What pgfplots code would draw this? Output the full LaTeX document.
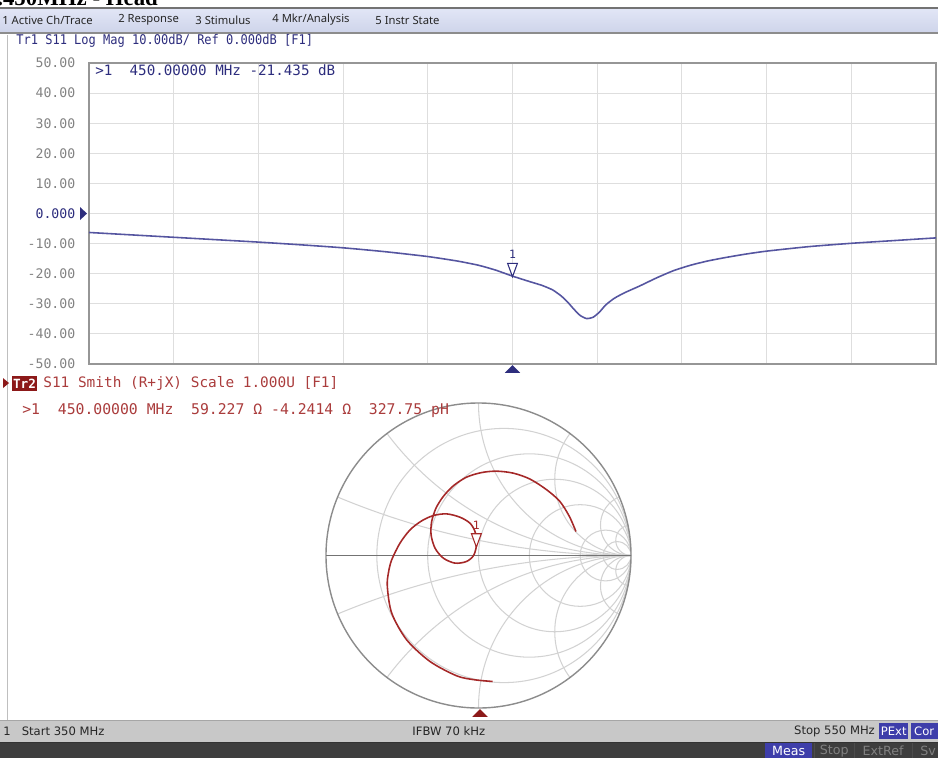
\documentclass[border=0pt]{standalone}
\usepackage{fontspec}
\usepackage{pgfplots}
\pgfplotsset{compat=1.18}
\usepackage{pgfplotstable}
\setmainfont{DejaVu Sans}
\newfontfamily\monof{DejaVu Sans Mono}
\newfontfamily\menuf{Noto Sans}
\newfontfamily\titlef{Liberation Serif}

\definecolor{navy}{RGB}{45,45,125}
\definecolor{trace1}{RGB}{85,85,160}
\definecolor{tickgray}{RGB}{130,130,130}
\definecolor{gridc}{RGB}{222,222,222}
\definecolor{framec}{RGB}{150,150,150}
\definecolor{trace2}{RGB}{165,40,40}
\definecolor{redtext}{RGB}{170,60,60}
\definecolor{trbox}{RGB}{140,25,25}
\definecolor{sgrid}{RGB}{210,210,210}
\definecolor{souter}{RGB}{140,140,140}
\definecolor{menutop}{RGB}{226,230,246}
\definecolor{menubot}{RGB}{206,212,234}
\definecolor{statusbar}{RGB}{200,200,200}
\definecolor{darkbar}{RGB}{62,62,62}
\definecolor{btnblue}{RGB}{62,62,170}

\pgfdeclareplotmark{tridown}{%
  \pgfpathmoveto{\pgfpointorigin}%
  \pgfpathlineto{\pgfpoint{-2.8pt}{7.6pt}}%
  \pgfpathlineto{\pgfpoint{2.8pt}{7.6pt}}%
  \pgfpathclose\pgfusepathqfillstroke}
\pgfdeclareplotmark{triup}{%
  \pgfpathmoveto{\pgfpoint{0pt}{-0.6pt}}%
  \pgfpathlineto{\pgfpoint{-4.4pt}{-5pt}}%
  \pgfpathlineto{\pgfpoint{4.4pt}{-5pt}}%
  \pgfpathclose\pgfusepathqfill}

\pgfplotstableread{
f db
350 -6.3
360 -7.1
370 -7.9
380 -8.7
390 -9.5
400 -10.4
410 -11.4
420 -12.7
430 -14.3
437 -15.8
442 -17.2
446 -18.8
450 -20.8
454 -22.6
457 -23.9
459.5 -25.4
461.5 -27.4
463 -29.4
464.5 -31.8
466 -33.9
467.5 -34.9
469 -34.5
470.5 -32.8
472 -30.4
474 -28.2
476.5 -26.3
480 -24.1
484 -21.4
488 -19.0
492 -17.2
496 -15.8
500 -14.7
505 -13.5
510 -12.5
520 -11.0
530 -9.9
540 -9.0
550 -8.1
}\traceone

\pgfplotstableread{
gr gi
0.093 -0.826
-0.025 -0.815
-0.143 -0.789
-0.318 -0.695
-0.471 -0.553
-0.569 -0.378
-0.598 -0.203
-0.590 -0.110
-0.569 -0.028
-0.515 0.081
-0.449 0.168
-0.373 0.227
-0.296 0.262
-0.209 0.273
-0.121 0.251
-0.056 0.212
-0.023 0.157
-0.012 0.081
-0.030 0.004
-0.078 -0.039
-0.154 -0.050
-0.231 -0.017
-0.285 0.048
-0.311 0.136
-0.307 0.223
-0.279 0.310
-0.231 0.387
-0.165 0.457
-0.078 0.514
0.021 0.544
0.119 0.553
0.228 0.540
0.338 0.501
0.447 0.431
0.534 0.354
0.596 0.256
0.639 0.157
}\tracetwo

\begin{document}
\begin{tikzpicture}
\useasboundingbox (0,0) rectangle (18.76,-15.16);
\clip (0,0) rectangle (18.76,-15.16);

% ---------- upper pane: log magnitude ----------
\begin{axis}[
  at={(1.78cm,-7.28cm)}, anchor=south west,
  scale only axis, width=16.94cm, height=6.02cm,
  xmin=350, xmax=550, ymin=-50, ymax=50,
  xtick={350,370,...,550}, xticklabels={},
  ytick={-50,-40,...,50},
  yticklabels={-50.00,-40.00,-30.00,-20.00,-10.00,\textcolor{navy}{0.000},10.00,20.00,30.00,40.00,50.00},
  major tick length=0pt,
  grid=major, major grid style={draw=gridc, line width=0.6pt},
  axis line style={draw=framec, line width=0.7pt},
  yticklabel style={font=\monof\fontsize{7.5}{8}\selectfont, text=tickgray, xshift=-0.15cm},
  clip=false,
]
\addplot[trace1, line width=0.9pt, smooth, tension=0.35] table[x=f,y=db]{\traceone};
\addplot[only marks, mark=tridown, mark options={fill=white, draw=navy, line width=0.6pt}]
  coordinates {(450,-21.0)} node[yshift=12.5pt, inner sep=0, text=navy, font=\monof\fontsize{6.5}{7}\selectfont] {1};
\addplot[only marks, mark=triup, mark options={fill=navy, draw=none}] coordinates {(450,-50)};
\end{axis}

% ---------- lower pane: Smith chart ----------
\begin{axis}[
  at={(6.52cm,-14.16cm)}, anchor=south west,
  scale only axis, width=6.1cm, height=6.1cm,
  xmin=-1, xmax=1, ymin=-1, ymax=1,
  hide axis, clip=false,
]
\begin{scope}
\clip (axis cs:0,0) circle[radius=3.05cm];
% constant resistance circles
\draw[sgrid, line width=0.6pt] (axis cs:0.16667,0) circle[radius=2.5417cm];
\draw[sgrid, line width=0.6pt] (axis cs:0.33333,0) circle[radius=2.0333cm];
\draw[sgrid, line width=0.6pt] (axis cs:0.5,0) circle[radius=1.525cm];
\draw[sgrid, line width=0.6pt] (axis cs:0.66667,0) circle[radius=1.0167cm];
\draw[sgrid, line width=0.6pt] (axis cs:0.83333,0) circle[radius=0.5083cm];
\draw[sgrid, line width=0.6pt] (axis cs:0.90909,0) circle[radius=0.2773cm];
% constant reactance arcs
\draw[sgrid, line width=0.6pt] (axis cs:1,5) circle[radius=15.25cm];
\draw[sgrid, line width=0.6pt] (axis cs:1,-5) circle[radius=15.25cm];
\draw[sgrid, line width=0.6pt] (axis cs:1,2) circle[radius=6.1cm];
\draw[sgrid, line width=0.6pt] (axis cs:1,-2) circle[radius=6.1cm];
\draw[sgrid, line width=0.6pt] (axis cs:1,1) circle[radius=3.05cm];
\draw[sgrid, line width=0.6pt] (axis cs:1,-1) circle[radius=3.05cm];
\draw[sgrid, line width=0.6pt] (axis cs:1,0.5) circle[radius=1.525cm];
\draw[sgrid, line width=0.6pt] (axis cs:1,-0.5) circle[radius=1.525cm];
\draw[sgrid, line width=0.6pt] (axis cs:1,0.2) circle[radius=0.61cm];
\draw[sgrid, line width=0.6pt] (axis cs:1,-0.2) circle[radius=0.61cm];
\draw[sgrid, line width=0.6pt] (axis cs:1,0.1) circle[radius=0.305cm];
\draw[sgrid, line width=0.6pt] (axis cs:1,-0.1) circle[radius=0.305cm];
\end{scope}
\draw[souter, line width=0.8pt] (axis cs:0,0) circle[radius=3.05cm];
\draw[black!55, line width=0.8pt] (axis cs:-1,0) -- (axis cs:1,0);
\addplot[trace2, line width=0.9pt, smooth, tension=0.5] table[x=gr,y=gi]{\tracetwo};
\addplot[only marks, mark=tridown, mark options={fill=white, draw=trace2, line width=0.6pt}]
  coordinates {(-0.014,0.055)} node[yshift=12.5pt, inner sep=0, text=trace2, font=\monof\fontsize{6.5}{7}\selectfont] {1};
\addplot[only marks, mark=triup, mark options={fill=trbox, draw=none}] coordinates {(0.01,-1)};
\end{axis}

% ---------- instrument frame, texts ----------
\begin{scope}[x=0.02cm, y=-0.02cm]
% title (cut at top, as in the screenshot)
\node[anchor=base west, inner sep=0, font=\titlef\bfseries\fontsize{13}{13}\selectfont] at (-3,6) {.450MHz - Head};
% menu bar
\shade[top color=menutop, bottom color=menubot] (0,8) rectangle (938,33);
\draw[black!55, line width=0.8pt] (0,8) -- (938,8);
\draw[black!45, line width=1pt] (0,33) -- (938,33);
\begin{scope}[every node/.style={anchor=west, inner sep=0, font=\menuf\fontsize{6.4}{7}\selectfont, text=black!85}]
\node at (2,20) {1 Active Ch/Trace};
\node at (118,20) {2 Response};
\node at (195,20) {3 Stimulus};
\node at (272,20) {4 Mkr/Analysis};
\node at (375,20) {5 Instr State};
\end{scope}
% left border
\draw[black!25, line width=0.5pt] (7,35) -- (7,720);
% trace 1 header and readout
\node[anchor=west, inner sep=0, text=navy, font=\monof\fontsize{7.6}{8}\selectfont] at (16,41)
  {\scalebox{0.9}[1]{Tr1 S11 Log Mag 10.00dB/ Ref 0.000dB [F1]}};
\node[anchor=west, inner sep=0, text=navy, font=\monof\fontsize{8.1}{9}\selectfont] at (95,70)
  {>1~~450.00000 MHz -21.435 dB};
% reference position triangle
\fill[navy] (80,207) -- (87,213.5) -- (80,220) -- cycle;
% trace 2 header
\fill[trbox] (3,378) -- (9,383) -- (3,388) -- cycle;
\fill[trbox] (12,376) rectangle (37,391);
\node[anchor=center, inner sep=0, text=white, font=\monof\bfseries\fontsize{7.2}{8}\selectfont] at (24.5,383.5) {Tr2};
\node[anchor=west, inner sep=0, text=redtext, font=\monof\fontsize{8.2}{9}\selectfont] at (43,383)
  {S11 Smith (R+jX) Scale 1.000U [F1]};
\node[anchor=west, inner sep=0, text=redtext, font=\monof\fontsize{8.4}{9}\selectfont] at (22,410)
  {>1~~450.00000 MHz~~59.227 Ω -4.2414 Ω~~327.75 pH};
% status bar
\fill[statusbar] (0,720) rectangle (938,742);
\draw[black!35, line width=0.6pt] (0,720) -- (938,720);
\fill[darkbar] (0,742) rectangle (938,758);
\draw[black!80, line width=0.8pt] (0,742.5) -- (938,742.5);
\begin{scope}[every node/.style={inner sep=0, font=\fontsize{6.6}{7}\selectfont, text=black!85}]
\node[anchor=west] at (3,731) {1\ \ \ Start 350 MHz};
\node[anchor=west] at (412,731) {IFBW 70 kHz};
\node[anchor=east] at (875,731) {Stop 550 MHz};
\end{scope}
\fill[btnblue] (879,723) rectangle (908,739);
\node[inner sep=0, text=white, font=\fontsize{6.6}{7}\selectfont] at (893.5,731) {PExt};
\fill[btnblue] (911,723) rectangle (940,739);
\node[inner sep=0, text=white, font=\fontsize{6.6}{7}\selectfont] at (924,731) {Cor};
\fill[btnblue] (765,743) rectangle (812,758);
\node[inner sep=0, text=white, font=\fontsize{7.2}{8}\selectfont] at (788.5,751) {Meas};
\begin{scope}[every node/.style={inner sep=0, font=\fontsize{7.2}{8}\selectfont, text=black!50}]
\node at (834,751) {Stop};
\node at (883,751) {ExtRef};
\node at (928,751) {Sv};
\end{scope}
\draw[black!70, line width=0.6pt] (814,743) -- (814,758);
\draw[black!70, line width=0.6pt] (854,743) -- (854,758);
\draw[black!70, line width=0.6pt] (912,743) -- (912,758);
\end{scope}
\end{tikzpicture}
\end{document}
